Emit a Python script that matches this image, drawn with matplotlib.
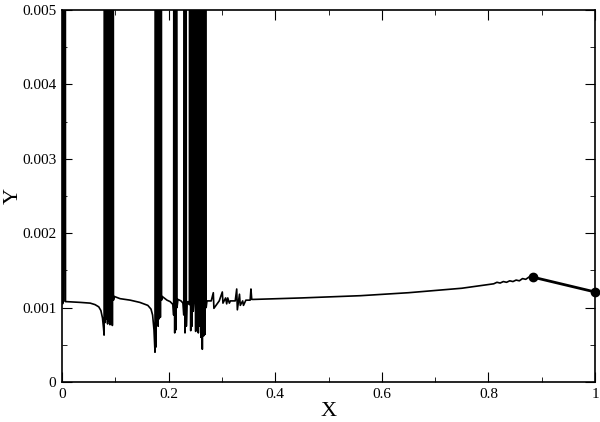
import matplotlib
matplotlib.use("Agg")
import matplotlib.pyplot as plt
from matplotlib.ticker import MultipleLocator, FuncFormatter

plt.rcParams['font.family'] = ['Liberation Serif', 'DejaVu Serif']

# main curve (spikes go far above the window)
x = [0.0000, 0.0006, 0.0012, 0.0019, 0.0028, 0.0056, 0.0066, 0.0090, 0.0340,
     0.0530, 0.0620, 0.0690, 0.0730, 0.0760, 0.0780, 0.0790,
     0.0800, 0.0812, 0.0822, 0.0834, 0.0844, 0.0856, 0.0866, 0.0878, 0.0888,
     0.0900, 0.0912, 0.0922, 0.0930, 0.0945, 0.0955, 0.0966, 0.0980,
     0.1090, 0.1280, 0.1460, 0.1610, 0.1670, 0.1700, 0.1726, 0.1745,
     0.1755, 0.1764, 0.1774, 0.1784, 0.1794, 0.1804, 0.1814, 0.1824, 0.1834,
     0.1846, 0.1858, 0.1868, 0.1880, 0.1970, 0.2030, 0.2083, 0.2095,
     0.2105, 0.2115, 0.2125, 0.2135, 0.2145, 0.2158, 0.2176, 0.2233, 0.2270,
     0.2285, 0.2295, 0.2308, 0.2320, 0.2333, 0.2345, 0.2364, 0.2390,
     0.2402, 0.2415, 0.2428, 0.2440, 0.2452, 0.2462, 0.2475,
     0.2495, 0.2508, 0.2520, 0.2533, 0.2545, 0.2558, 0.2570, 0.2583, 0.2595,
     0.2608, 0.2620, 0.2633, 0.2645, 0.2658, 0.2670, 0.2683, 0.2695, 0.2705,
     0.2720, 0.2800, 0.2839, 0.2850, 0.2950, 0.3008, 0.3020, 0.3070, 0.3090,
     0.3110, 0.3140, 0.3160, 0.3250, 0.3278, 0.3290, 0.3330, 0.3345, 0.3390,
     0.3405, 0.3450, 0.3530, 0.3545, 0.3560, 0.3600, 0.4500, 0.5600, 0.6500,
     0.7500, 0.8000, 0.8100, 0.8160, 0.8220, 0.8280, 0.8340, 0.8400, 0.8460,
     0.8520, 0.8580, 0.8640, 0.8700, 0.8760, 0.8830]
y = [0.00107, 0.00112, 0.00105, 0.02000, 0.00108, 0.02000, 0.00108, 0.00108, 0.00107,
     0.00106, 0.00104, 0.00101, 0.00096, 0.00086, 0.00072, 0.00063,
     0.02000, 0.00080, 0.02000, 0.00085, 0.02000, 0.00078, 0.02000, 0.00082, 0.02000,
     0.00077, 0.02000, 0.00079, 0.02000, 0.00076, 0.02000, 0.00110, 0.00115,
     0.00112, 0.00110, 0.00107, 0.00103, 0.00098, 0.00090, 0.00070, 0.00040,
     0.02000, 0.00047, 0.02000, 0.00080, 0.02000, 0.00075, 0.02000, 0.00085, 0.02000,
     0.00087, 0.02000, 0.00110, 0.00115, 0.00110, 0.00108, 0.00104, 0.00090,
     0.02000, 0.00066, 0.02000, 0.00070, 0.02000, 0.00100, 0.00111, 0.00109, 0.00106,
     0.00090, 0.02000, 0.00066, 0.02000, 0.00075, 0.00105, 0.00108, 0.00104,
     0.02000, 0.00069, 0.02000, 0.00075, 0.02000, 0.00095, 0.00108,
     0.02000, 0.00068, 0.02000, 0.00072, 0.02000, 0.00066, 0.02000, 0.00075, 0.02000,
     0.00060, 0.02000, 0.00044, 0.02000, 0.00062, 0.02000, 0.00064, 0.02000, 0.00100,
     0.00109, 0.00109, 0.00120, 0.00099, 0.00109, 0.00121, 0.00106, 0.00113, 0.00105,
     0.00113, 0.00106, 0.00109, 0.00109, 0.00125, 0.00097, 0.00118, 0.00103, 0.00109,
     0.00103, 0.00110, 0.00110, 0.00125, 0.00111, 0.00111, 0.00113, 0.00116, 0.00120,
     0.00126, 0.00131, 0.00132, 0.00134, 0.00133, 0.00135, 0.00134, 0.00136, 0.00135,
     0.00137, 0.00136, 0.00139, 0.00138, 0.00141, 0.00141]

# last two points, drawn thicker with circle markers
x_end = [0.883, 1.0]
y_end = [0.00141, 0.00121]

fig = plt.figure(figsize=(6, 4.22), dpi=100)
ax = fig.add_axes([0.1033, 0.0948, 0.8884, 0.8815])

ax.plot(x, y, color='black', lw=1.2)
ax.plot(x_end, y_end, color='black', lw=2, marker='o', ms=6, clip_on=False, zorder=3)

ax.set_xlim(0, 1)
ax.set_ylim(0, 0.005)
ax.xaxis.set_major_locator(MultipleLocator(0.2))
ax.xaxis.set_minor_locator(MultipleLocator(0.1))
ax.yaxis.set_major_locator(MultipleLocator(0.001))
ax.yaxis.set_minor_locator(MultipleLocator(0.0005))
fmt = FuncFormatter(lambda v, p: '%g' % round(v, 6))
ax.xaxis.set_major_formatter(fmt)
ax.yaxis.set_major_formatter(fmt)
ax.tick_params(which='both', direction='in', top=True, right=True, labelsize=11)
ax.tick_params(which='major', length=7, pad=4)
ax.tick_params(which='minor', length=3.5)
for s in ax.spines.values():
    s.set_linewidth(1.2)

ax.set_xlabel('X', fontsize=16)
ax.xaxis.set_label_coords(0.5, -0.055)
fig.text(13 / 600, 1 - 196 / 422, 'Y', fontsize=16, rotation=90,
         ha='center', va='center')

fig.savefig('out.png', dpi=100)
